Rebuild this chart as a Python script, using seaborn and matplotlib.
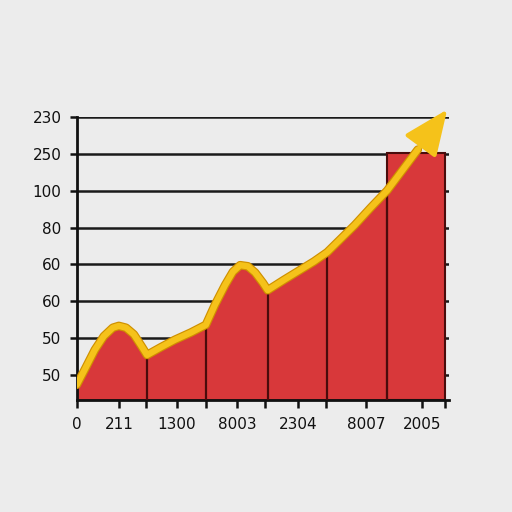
import matplotlib
matplotlib.use("Agg")
import matplotlib.pyplot as plt
import matplotlib.patheffects as pe
import seaborn as sns
import pandas as pd

# ---- data ----
curve_x = [0.0, 0.15, 0.30, 0.45, 0.60, 0.70, 0.82, 0.95, 1.07, 1.17, 1.40, 1.63, 1.90, 2.15,
           2.30, 2.47, 2.60, 2.72, 2.85, 2.97, 3.10, 3.18, 3.45, 3.72, 3.95, 4.17, 4.40, 4.63,
           4.90, 5.17]
curve_y = [0.73, 1.20, 1.68, 2.05, 2.28, 2.33, 2.28, 2.10, 1.80, 1.54, 1.75, 1.95, 2.15, 2.36,
           2.90, 3.44, 3.80, 3.98, 3.95, 3.78, 3.50, 3.30, 3.58, 3.85, 4.08, 4.33, 4.70, 5.07,
           5.55, 6.01]
bar_edges = [0.0, 1.17, 2.15, 3.18, 4.17, 5.17, 6.13]
last_bar_top = 7.04
arrow_base = (5.68, 7.12)
arrow_tip = (6.17, 8.21)

ytick_pos = [1, 2, 3, 4, 5, 6, 7, 8]
ytick_labels = ["50", "50", "60", "60", "80", "100", "250", "230"]
xtick_pos = [0.0, 0.70, 1.67, 2.67, 3.68, 4.82, 5.75]
xtick_labels = ["0", "211", "1300", "8003", "2304", "8007", "2005"]
xminor_pos = [1.15, 2.15, 3.13, 4.15, 6.13]

sns.set_theme(style="white")
plt.rcParams["font.family"] = ["DejaVu Sans"]

bg = "#ececec"
red = "#d8383a"
dark = "#4a0c0c"
gold = "#f5c21a"
gold_edge = "#cf9000"

fig = plt.figure(figsize=(5.12, 5.12), dpi=100, facecolor=bg)
ax = fig.add_axes([0.150, 0.219, 0.727, 0.552])
ax.set_facecolor(bg)
ax.set_xlim(0, 6.2)
ax.set_ylim(0.32, 8.0)

# gridlines
for y in ytick_pos:
    ax.axhline(y, color="#1a1a1a", lw=1.8, zorder=1)

# red area under the curve
df = pd.DataFrame({"x": curve_x, "y": curve_y})
ax.fill_between(df["x"], 0.32, df["y"], color=red, edgecolor=dark, lw=1.2, zorder=2)
# last bar
ax.bar([(bar_edges[5] + bar_edges[6]) / 2], [last_bar_top - 0.32], bottom=0.32,
       width=bar_edges[6] - bar_edges[5], color=red, edgecolor=dark, lw=1.5, zorder=2)

# dividers between bars
for e in bar_edges[1:-1]:
    top = curve_y[curve_x.index(e)]
    ax.plot([e, e], [0.32, top], color=dark, lw=1.6, zorder=3)

# yellow curve with arrow shaft
line_x = curve_x + [arrow_base[0]]
line_y = curve_y + [arrow_base[1]]
ldf = pd.DataFrame({"x": line_x, "y": line_y})
sns.lineplot(data=ldf, x="x", y="y", color=gold, lw=4.5, ax=ax, zorder=5, sort=False,
             path_effects=[pe.Stroke(linewidth=6.2, foreground=gold_edge), pe.Normal()])
ax.annotate("", xy=arrow_tip, xytext=arrow_base,
            arrowprops=dict(arrowstyle="-|>,head_length=1.4,head_width=0.6",
                            mutation_scale=20, color=gold, lw=3, shrinkA=0, shrinkB=0),
            zorder=6, annotation_clip=False)

# axes styling
for s in ["top", "right"]:
    ax.spines[s].set_visible(False)
for s in ["left", "bottom"]:
    ax.spines[s].set_color("#111111")
    ax.spines[s].set_linewidth(2)

ax.set_yticks(ytick_pos)
ax.set_yticklabels(ytick_labels, fontsize=11, color="#111111")
ax.set_xticks(xtick_pos)
ax.set_xticklabels(xtick_labels, fontsize=11, color="#111111")
ax.set_xticks(xminor_pos, minor=True)
ax.tick_params(axis="y", which="major", left=True, length=5, width=1.8, color="#111111", pad=6)
ax.tick_params(axis="x", which="both", bottom=True, length=6, width=1.8, color="#111111", pad=6)
ax.set_xlabel("")
ax.set_ylabel("")
ax.grid(False)

fig.savefig("out.png", dpi=100, facecolor=bg)
